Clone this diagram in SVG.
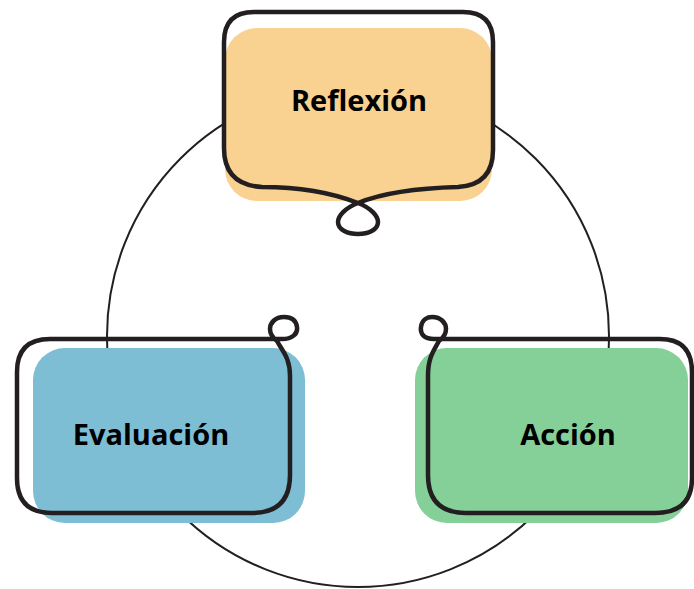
<svg xmlns="http://www.w3.org/2000/svg" width="694" height="589" viewBox="0 0 694 589">
  <style>
    .ring { fill: none; stroke: #231f20; stroke-width: 2; }
    .outline { fill: none; stroke: #231f20; stroke-width: 4.5; stroke-linejoin: round; stroke-linecap: round; }
    .label { font-family: "Open Sans", "Noto Sans", "Liberation Sans", sans-serif; font-weight: 700; font-size: 29px; fill: #000; text-anchor: middle; }
  </style>
  <rect width="694" height="589" fill="#ffffff"/>

  <!-- cycle ring running behind the three stages -->
  <g id="connectors">
    <circle class="ring" cx="358" cy="336" r="251"/>
  </g>

  <g id="reflexion">
    <rect x="225" y="28" width="267" height="173" rx="32" fill="#f9d190"/>
    <path class="outline" d="M 358,203 C 330,192 300,187 262,187 Q 224,185 224,148 L 224,42 Q 224,12 254,12 L 463,12 Q 493,12 493,42 L 493,150 Q 493,185 458,187 C 420,188 385,192 358,203 C 345,208 338,216 338,222 C 338,230 348,234 358,234 C 368,234 378,230 378,222 C 378,216 371,208 358,203 Z"/>
    <text class="label" x="359" y="111">Reflexión</text>
  </g>

  <g id="evaluacion">
    <rect x="33" y="348" width="272" height="175" rx="32" fill="#7dbed5"/>
    <path class="outline" d="M 277,341 C 283,352 290,358 290,376 L 290,475 Q 290,513 252,513 L 52,513 Q 17,513 17,478 L 17,372 Q 17,339 50,339 L 282,339 C 292,339 298,334 297,327 C 296,319 290,317 284,317 C 275,317 270,323 270,329 C 270,334 273,338 277,341 Z"/>
    <text class="label" x="151" y="445">Evaluación</text>
  </g>

  <g id="accion">
    <rect x="415" y="348" width="273" height="175" rx="32" fill="#85cf98"/>
    <path class="outline" d="M 439,341 C 433,352 428,358 428,376 L 428,475 Q 428,513 466,513 L 655,513 Q 692,513 692,478 L 692,372 Q 692,339 660,339 L 434,339 C 424,339 420,334 421,327 C 422,319 428,317 432,317 C 441,317 446,323 446,329 C 446,334 443,338 439,341 Z"/>
    <text class="label" x="568" y="445">Acción</text>
  </g>
</svg>
